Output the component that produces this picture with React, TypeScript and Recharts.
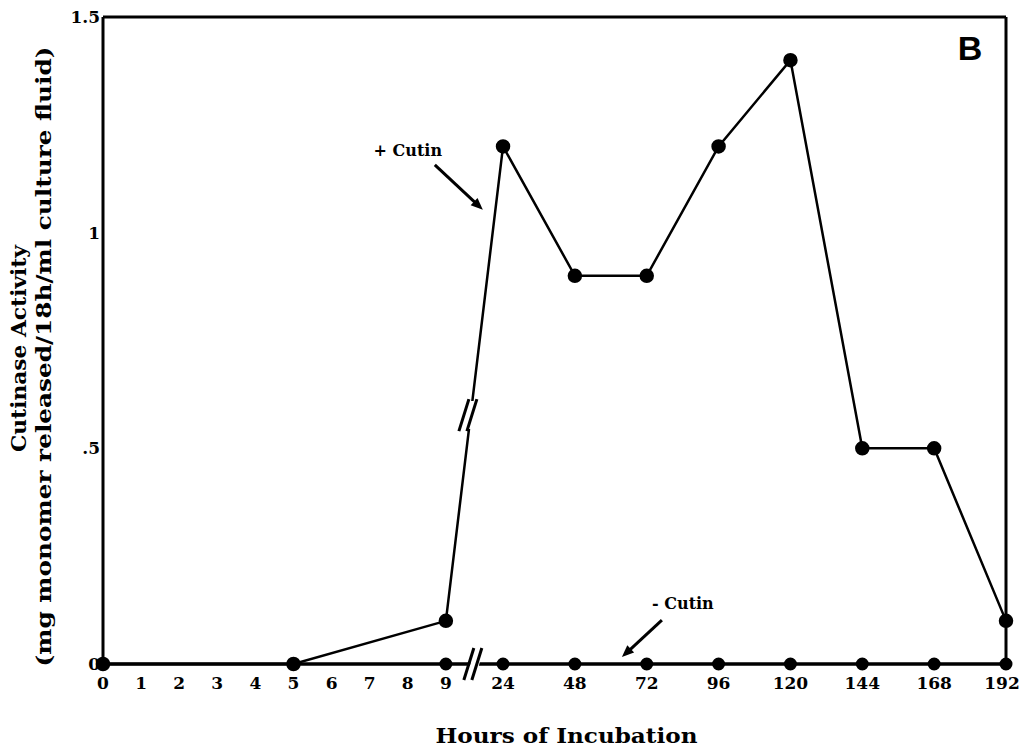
import React from 'react';
import { LineChart, Line, XAxis, YAxis, ReferenceLine, ReferenceDot, Label } from 'recharts';

// hours on the x axis, the axis is broken between 9 and 24
const xTickHours = [0, 1, 2, 3, 4, 5, 6, 7, 8, 9, 24, 48, 72, 96, 120, 144, 168, 192];
const yTicks = [0, 0.5, 1, 1.5];
const yTickLabels = ['0', '.5', '1', '1.5'];

const plusCutinHours = [0, 5, 9, 24, 48, 72, 96, 120, 144, 168, 192];
const plusCutinValues = [0, 0, 0.1, 1.2, 0.9, 0.9, 1.2, 1.4, 0.5, 0.5, 0.1];

const minusCutinHours = [0, 9, 24, 48, 72, 96, 120, 144, 168, 192];
const minusCutinValues = [0, 0, 0, 0, 0, 0, 0, 0, 0, 0];

// broken scale: 1 unit per hour up to 9, then one 24h step = 1.886 units
const pos = (h: number) => (h <= 9 ? h : 10.5 + ((h - 24) / 24) * 1.886);
const xMax = pos(192);

const plusData = plusCutinHours.map((h, i) => ({ x: pos(h), y: plusCutinValues[i] }));
const minusData = minusCutinHours.map((h, i) => ({ x: pos(h), y: minusCutinValues[i] }));
const tickPos = xTickHours.map(pos);

const FONT = '"DejaVu Serif", serif';

const Annotation = (props: any) => {
  const { cx, cy, text, tx, ty, sx, sy } = props;
  if (cx == null || cy == null) return null;
  const ang = Math.atan2(0 - sy, 0 - sx);
  const hl = 12;
  const hw = 5;
  const p1 = [cx - hl * Math.cos(ang) + hw * Math.sin(ang), cy - hl * Math.sin(ang) - hw * Math.cos(ang)];
  const p2 = [cx - hl * Math.cos(ang) - hw * Math.sin(ang), cy - hl * Math.sin(ang) + hw * Math.cos(ang)];
  return (
    <g>
      <text x={cx + tx} y={cy + ty} textAnchor="middle" dominantBaseline="middle"
        fontFamily={FONT} fontWeight="bold" fontSize={16} fill="#000">{text}</text>
      <line x1={cx + sx} y1={cy + sy} x2={cx - 6 * Math.cos(ang)} y2={cy - 6 * Math.sin(ang)} stroke="#000" strokeWidth={3} />
      <polygon points={`${cx},${cy} ${p1[0]},${p1[1]} ${p2[0]},${p2[1]}`} fill="#000" />
    </g>
  );
};

const BreakMark = (props: any) => {
  const { cx, cy, gap } = props;
  if (cx == null || cy == null) return null;
  return (
    <g>
      {gap && <polygon points={`${cx - 8},${cy + 14} ${cx - 1},${cy - 14} ${cx + 8},${cy - 14} ${cx + 1},${cy + 14}`} fill="#fff" />}
      <line x1={cx - 11} y1={cy + 16} x2={cx - 1} y2={cy - 16} stroke="#000" strokeWidth={3} />
      <line x1={cx - 3} y1={cy + 16} x2={cx + 7} y2={cy - 16} stroke="#000" strokeWidth={3} />
    </g>
  );
};

const PanelLetter = (props: any) => {
  const { cx, cy } = props;
  if (cx == null || cy == null) return null;
  return (
    <text x={cx - 36} y={cy + 34} textAnchor="middle" dominantBaseline="middle"
      fontFamily='"Liberation Sans", Arial, sans-serif' fontWeight="bold" fontSize={34} fill="#000">B</text>
  );
};

const XTick = (props: any) => {
  const { x, y, payload, index } = props;
  const last = index === tickPos.length - 1;
  const label = xTickHours[tickPos.findIndex((t) => Math.abs(t - payload.value) < 1e-6)];
  return (
    <text x={last ? x - 4 : x} y={y} dy="0.71em" textAnchor="middle"
      fontFamily={FONT} fontWeight="bold" fontSize={17} fill="#000">{label}</text>
  );
};

const YTitle = (props: any) => {
  const vb = props.viewBox || {};
  const cy = (vb.y ?? 17) + (vb.height ?? 647) / 2;
  return (
    <g fontFamily={FONT} fontWeight="bold" fill="#000">
      <text transform={`translate(20, ${cy + 8}) rotate(-90)`} textAnchor="middle" dominantBaseline="middle"
        fontSize={21} textLength={207} lengthAdjust="spacingAndGlyphs">
        Cutinase Activity
      </text>
      <text transform={`translate(45, ${cy + 16}) rotate(-90)`} textAnchor="middle" dominantBaseline="middle"
        fontSize={21} textLength={620} lengthAdjust="spacingAndGlyphs">
        (mg monomer released/18h/ml culture fluid)
      </text>
    </g>
  );
};

const XTitle = (props: any) => {
  const vb = props.viewBox || {};
  const cx = (vb.x ?? 103) + (vb.width ?? 903) / 2;
  return (
    <text x={cx + 12} y={737} textAnchor="middle" dominantBaseline="middle"
      fontFamily={FONT} fontWeight="bold" fontSize={20} fill="#000" textLength={262} lengthAdjust="spacingAndGlyphs">
      Hours of Incubation
    </text>
  );
};

export default function App() {
  return (
    <div style={{ position: 'absolute', left: 0, top: 0, background: '#fff' }}>
      <LineChart width={1019} height={749} margin={{ top: 17, right: 13, bottom: 45, left: 60 }}>
        <XAxis
          type="number"
          dataKey="x"
          domain={[0, xMax]}
          ticks={tickPos}
          interval={0}
          allowDecimals
          tickLine={false}
          tickSize={0}
          tickMargin={13}
          height={40}
          axisLine={{ stroke: '#000', strokeWidth: 3 }}
          tick={<XTick />}
        >
          <Label content={<XTitle />} />
        </XAxis>
        <YAxis
          type="number"
          domain={[0, 1.5]}
          ticks={yTicks}
          tickFormatter={(v: number) => yTickLabels[yTicks.indexOf(v)]}
          width={43}
          tickLine={false}
          tickSize={0}
          tickMargin={3}
          axisLine={{ stroke: '#000', strokeWidth: 3 }}
          tick={{ fill: '#000', fontFamily: FONT, fontWeight: 'bold', fontSize: 17 }}
        >
          <Label content={<YTitle />} />
        </YAxis>
        <ReferenceLine y={1.5} stroke="#000" strokeWidth={3} />
        <ReferenceLine x={xMax} stroke="#000" strokeWidth={3} />
        <Line
          data={minusData}
          dataKey="y"
          stroke="#000"
          strokeWidth={3}
          dot={{ r: 5, fill: '#000', stroke: '#000' }}
          isAnimationActive={false}
        />
        <Line
          data={plusData}
          dataKey="y"
          stroke="#000"
          strokeWidth={2.5}
          dot={{ r: 6, fill: '#000', stroke: '#000' }}
          isAnimationActive={false}
        />
        <ReferenceDot x={9.63} y={0.577} shape={<BreakMark gap />} />
        <ReferenceDot x={9.76} y={0} shape={<BreakMark gap />} />
        <ReferenceDot x={9.97} y={1.053} shape={<Annotation text="+ Cutin" tx={-75} ty={-58} sx={-48} sy={-45} />} />
        <ReferenceDot x={13.62} y={0.016} shape={<Annotation text="- Cutin" tx={61} ty={-53} sx={40} sy={-37} />} />
        <ReferenceDot x={xMax} y={1.5} shape={<PanelLetter />} />
      </LineChart>
    </div>
  );
}
